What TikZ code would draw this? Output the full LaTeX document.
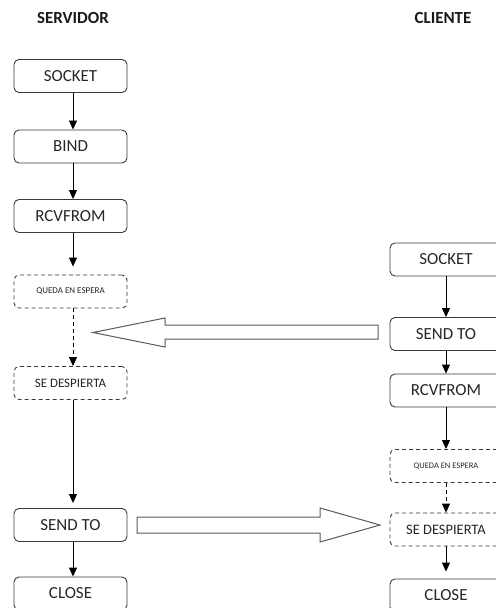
\documentclass[tikz,border=0pt]{standalone}
\usepackage{fontspec}
\setmainfont{Carlito}
\usetikzlibrary{arrows.meta}
\definecolor{boxgray}{HTML}{3A3A3A}
\definecolor{shaftgray}{HTML}{5A5A5A}
\tikzset{
  box/.style={draw=boxgray, line width=0.9bp, rounded corners=5bp,
    minimum width=113bp, minimum height=33bp, inner sep=0pt,
    text=black!85, font=\fontsize{17}{17}\selectfont},
  rbox/.style={box, minimum width=112bp},
  waitbox/.style={dashed, dash pattern=on 4bp off 3bp},
  flow/.style={draw=black, line width=0.9bp, -{Triangle[width=8bp,length=9bp]}},
  bigarrow/.style={draw=shaftgray, line width=1bp, fill=white, line join=miter},
  title/.style={font=\bfseries\fontsize{17}{17}\selectfont, text=black!90}
}
\begin{document}
\begin{tikzpicture}[x=1bp, y=-1bp]
  \useasboundingbox (0,0) rectangle (496,608);
  \clip (0,0) rectangle (496,608);

  % column headings
  \node[title] (tserv) at (73,18) {SERVIDOR};
  \node[title] (tcli)  at (443,18) {CLIENTE};

  % server side
  \node[box] (s1) at (70.5,76)  {SOCKET};
  \node[box] (s2) at (70.5,146.5) {BIND};
  \node[box] (s3) at (70.5,216) {RCVFROM};
  \node[box, waitbox, font=\fontsize{9}{9}\selectfont] (s4) at (70.5,291.5) {QUEDA EN ESPERA};
  \node[box, waitbox, font=\fontsize{13}{13}\selectfont] (s5) at (70.5,383) {SE DESPIERTA};
  \node[box] (s6) at (70.5,525) {SEND TO};
  \node[box] (s7) at (70.5,593.5) {CLOSE};

  \draw[flow] ([xshift=2.5bp]s1.south) -- ([xshift=2.5bp]s2.north);
  \draw[flow] ([xshift=2.5bp]s2.south) -- ([xshift=2.5bp]s3.north);
  \draw[flow, shorten >=8bp] ([xshift=2.5bp]s3.south) -- ([xshift=2.5bp]s4.north);
  \draw[flow, dash pattern=on 4bp off 3bp] ([xshift=2.5bp]s4.south) -- ([xshift=2.5bp]s5.north);
  \draw[flow, shorten >=5bp] ([xshift=2.5bp]s5.south) -- ([xshift=2.5bp]s6.north);
  \draw[flow] ([xshift=2.5bp]s6.south) -- ([xshift=2.5bp]s7.north);

  % client side
  \node[rbox] (c1) at (446,259.5) {SOCKET};
  \node[rbox] (c2) at (446,334)   {SEND TO};
  \node[rbox] (c3) at (446,390.5) {RCVFROM};
  \node[rbox, waitbox, font=\fontsize{8.5}{8.5}\selectfont] (c4) at (446,466) {QUEDA EN ESPERA};
  \node[rbox, waitbox, font=\fontsize{14.5}{14.5}\selectfont] (c5) at (446,529.5) {SE DESPIERTA};
  \node[rbox] (c6) at (446,595.5) {CLOSE};

  \draw[flow] (c1.south) -- (c2.north);
  \draw[flow] (c2.south) -- (c3.north);
  \draw[flow] (c3.south) -- (c4.north);
  \draw[flow, dash pattern=on 4bp off 3bp] (c4.south) -- (c5.north);
  \draw[flow, shorten >=7bp] (c5.south) -- (c6.north);

  % message from client to server
  \draw[bigarrow] (378,325) -- (165,325) -- (165,318) -- (93,332.5)
    -- (165,347) -- (165,339) -- (378,339) -- cycle;

  % reply from server to client
  \draw[bigarrow] (137,517) -- (320,517) -- (320,508) -- (380,525)
    -- (320,542) -- (320,533) -- (137,533) -- cycle;
\end{tikzpicture}
\end{document}
